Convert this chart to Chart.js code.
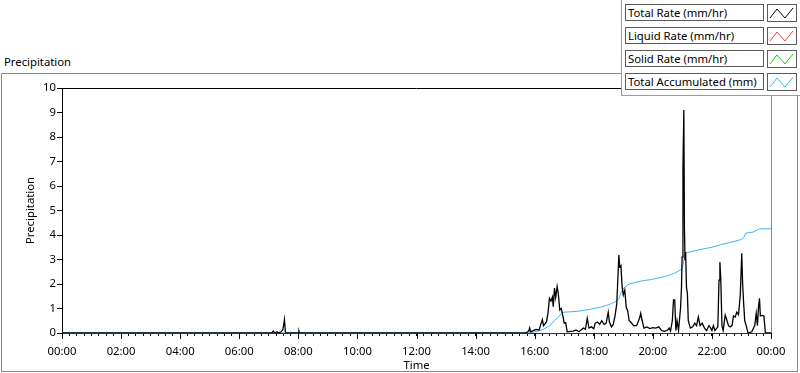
<!DOCTYPE html>
<html>
<head>
<meta charset="utf-8">
<script src="https://cdn.jsdelivr.net/npm/chart.js@4.4.1/dist/chart.umd.min.js"></script>
<style>
  body { margin: 0; background: #fff; font-family: "Noto Sans", "Open Sans", sans-serif; }
  #wrap { position: relative; width: 800px; height: 373px; overflow: hidden; }
  #title { position: absolute; left: 4px; top: 54px; font-size: 11.3px; color: #000; }
  #frame { position: absolute; left: 1px; top: 73px; width: 797px; height: 299px; border: 1px solid #8a8a8a; box-sizing: border-box; }
  #chart { position: absolute; left: 0; top: 0; }
  #legend { position: absolute; left: 621px; top: 0; width: 179px; height: 96px; background: #fff;
            border-left: 1px solid #9a9a9a; border-bottom: 1px solid #9a9a9a; box-sizing: border-box; }
  .row { position: absolute; left: 3px; height: 17px; }
  .txt { position: absolute; left: 0; top: 0; width: 139px; height: 17px; border: 1px solid #5a5a5a; box-sizing: border-box;
         font-size: 11.3px; line-height: 15px; padding-left: 2px; color: #000; white-space: nowrap; overflow: hidden; }
  .ico { position: absolute; left: 142px; top: 0; width: 30px; height: 18px; border: 1px solid #5a5a5a; box-sizing: border-box; }
</style>
</head>
<body>
<div id="wrap">
  <div id="title">Precipitation</div>
  <div id="frame"></div>
  <canvas id="chart" width="800" height="373"></canvas>
  <div id="legend"></div>
</div>
<script>
// Series labels and colours
const seriesNames = ['Total Rate (mm/hr)', 'Liquid Rate (mm/hr)', 'Solid Rate (mm/hr)', 'Total Accumulated (mm)'];
const seriesColors = ['#000000', '#ff3c3c', '#18d018', '#3db4f5'];

// Total rate (mm/hr): time in hours of day
const rateTimes = [0, 7.1, 7.15, 7.2, 7.28, 7.32, 7.42, 7.47, 7.5, 7.53, 7.56, 7.6, 8.0, 8.02, 8.04,
  15.7, 15.8, 15.83, 15.86, 15.95, 16.05, 16.15, 16.2, 16.26, 16.3, 16.4, 16.45, 16.5, 16.55, 16.6, 16.63,
  16.67, 16.71, 16.76, 16.8, 16.85, 16.9, 16.96, 17.0, 17.05, 17.1, 17.3, 17.4, 17.5, 17.65, 17.72, 17.78,
  17.84, 17.92, 18.0, 18.05, 18.13, 18.2, 18.27, 18.35, 18.42, 18.49, 18.53, 18.6, 18.66, 18.72, 18.78,
  18.85, 18.88, 18.92, 18.96, 19.0, 19.05, 19.1, 19.15, 19.2, 19.25, 19.35, 19.45, 19.55, 19.59, 19.63,
  19.7, 19.8, 19.9, 20.0, 20.1, 20.2, 20.3, 20.4, 20.5, 20.55, 20.6, 20.66, 20.7, 20.74, 20.78, 20.82,
  20.87, 20.94, 20.97, 20.99, 21.02, 21.05, 21.07, 21.09, 21.11, 21.14, 21.17, 21.2, 21.27, 21.35, 21.42,
  21.48, 21.54, 21.6, 21.67, 21.75, 21.82, 21.9, 21.96, 22.0, 22.05, 22.1, 22.2, 22.24, 22.27, 22.3,
  22.34, 22.38, 22.45, 22.5, 22.56, 22.62, 22.68, 22.73, 22.79, 22.84, 22.9, 22.96, 23.01, 23.04, 23.07,
  23.11, 23.16, 23.22, 23.35, 23.45, 23.5, 23.54, 23.58, 23.61, 23.64, 23.7, 23.76, 23.81, 24.0];
const totalRate = [0, 0, 0.08, 0, 0.05, 0, 0.05, 0.12, 0.3, 0.55, 0.05, 0, 0, 0.08, 0,
  0, 0.08, 0.2, 0.05, 0.1, 0.15, 0.12, 0.33, 0.55, 0.3, 0.45, 0.8, 1.42, 1.3, 1.47, 1.07,
  1.83, 1.45, 1.9, 1.6, 0.94, 1.0, 0.67, 0.4, 0.42, 0.05, 0.08, 0.12, 0.05, 0.2, 0.15, 0.6,
  0.2, 0.25, 0.18, 0.4, 0.45, 0.35, 0.5, 0.35, 0.4, 0.85, 0.45, 0.25, 0.35, 0.7, 1.2,
  3.18, 2.7, 2.75, 1.89, 1.55, 1.75, 1.05, 0.9, 0.5, 0.45, 0.3, 0.3, 0.6, 0.8, 0.55,
  0.2, 0.25, 0.18, 0.22, 0.2, 0.25, 0.1, 0.07, 0.12, 0.2, 0.08, 0.5, 1.35, 1.35, 0.1, 0.5,
  0.1, 1.06, 1.85, 3.1, 6.8, 9.1, 4.3, 3.0, 3.3, 1.85, 1.6, 0.5, 0.2, 0.25, 0.4,
  0.3, 0.65, 0.3, 0.4, 0.2, 0.1, 0.3, 0.2, 0.1, 0.3, 0.1, 0.25, 2.16, 2.9, 2.2,
  0.3, 0.1, 0.73, 0.55, 0.3, 0.25, 0.3, 0.7, 0.65, 0.85, 0.75, 1.55, 3.25, 2.0, 1.3,
  0.5, 0.3, 0, 0.05, 0.3, 0.8, 0.3, 1.1, 1.42, 0.7, 0.72, 0.7, 0, 0];

// Total accumulated (mm)
const accTimes = [0, 15.85, 16.1, 16.3, 16.5, 16.67, 16.8, 16.9, 17.0, 17.4, 17.8, 18.1, 18.37, 18.6,
  18.77, 18.85, 18.93, 19.0, 19.05, 19.2, 19.6, 19.93, 20.4, 20.74, 20.98, 21.03, 21.08, 21.15, 21.66,
  22.0, 22.35, 22.7, 23.0, 23.08, 23.15, 23.4, 23.6, 24.0];
const totalAccum = [0, 0, 0.08, 0.15, 0.3, 0.5, 0.65, 0.78, 0.85, 0.88, 0.95, 1.02, 1.1, 1.2,
  1.3, 1.4, 1.67, 1.8, 1.88, 2.0, 2.12, 2.18, 2.3, 2.44, 2.6, 2.8, 3.2, 3.28, 3.42,
  3.5, 3.62, 3.72, 3.82, 3.9, 4.08, 4.12, 4.25, 4.25];

// Axis ticks
const yTicks = [0, 1, 2, 3, 4, 5, 6, 7, 8, 9, 10];
const xMajorHours = [0, 2, 4, 6, 8, 10, 12, 14, 16, 18, 20, 22, 24];

// legend (LabVIEW style boxes)
const legend = document.getElementById('legend');
seriesNames.forEach((name, i) => {
    const row = document.createElement('div');
    row.className = 'row';
    row.style.top = (4 + i * 23) + 'px';
    row.innerHTML = `<div class="txt">${name}</div>
      <div class="ico"><svg width="28" height="16"><polyline points="2,12 9,3 17,12 25,2" fill="none" stroke="${seriesColors[i]}" stroke-width="1"/></svg></div>`;
    legend.appendChild(row);
});

const pad2 = n => String(n % 24).padStart(2, '0');
const font = { family: '"Noto Sans", "Open Sans", sans-serif', size: 11.3 };

// frame around plot area + longer major ticks
const plotFrame = {
    id: 'plotFrame',
    afterDraw(chart) {
        const { ctx, chartArea: a, scales } = chart;
        ctx.save();
        ctx.lineWidth = 1;
        ctx.strokeStyle = '#000';
        ctx.beginPath();
        ctx.moveTo(a.left, a.top + 0.5);
        ctx.lineTo(a.right, a.top + 0.5);
        ctx.stroke();
        ctx.strokeStyle = '#8a8a8a';
        ctx.beginPath();
        ctx.moveTo(a.right + 0.5, a.top);
        ctx.lineTo(a.right + 0.5, a.bottom);
        ctx.stroke();
        ctx.strokeStyle = '#000';
        xMajorHours.forEach(h => {
            const px = Math.round(scales.x.getPixelForValue(h)) + 0.5;
            ctx.beginPath();
            ctx.moveTo(px, a.bottom);
            ctx.lineTo(px, a.bottom + 6);
            ctx.stroke();
        });
        ctx.restore();
    }
};

new Chart(document.getElementById('chart'), {
    type: 'line',
    data: {
        datasets: [
            { label: seriesNames[0], data: rateTimes.map((t, i) => ({ x: t, y: totalRate[i] })),
              borderColor: seriesColors[0], borderWidth: 1.3, order: 0 },
            { label: seriesNames[1], data: [], borderColor: seriesColors[1], borderWidth: 1, order: 1 },
            { label: seriesNames[2], data: [], borderColor: seriesColors[2], borderWidth: 1, order: 2 },
            { label: seriesNames[3], data: accTimes.map((t, i) => ({ x: t, y: totalAccum[i] })),
              borderColor: seriesColors[3], borderWidth: 1, order: 3 }
        ]
    },
    options: {
        responsive: false,
        animation: false,
        devicePixelRatio: 1,
        layout: { padding: { left: 20, right: 29, top: 88, bottom: 0 } },
        elements: { point: { radius: 0 }, line: { tension: 0 } },
        plugins: { legend: { display: false }, tooltip: { enabled: false } },
        scales: {
            x: {
                type: 'linear', min: 0, max: 24,
                afterFit: s => { s.height = 40; },
                border: { display: true, color: '#333', width: 1, z: 1 },
                grid: { drawOnChartArea: false, drawTicks: true, tickLength: 3, tickColor: '#000' },
                ticks: {
                    stepSize: 0.25, autoSkip: false, maxRotation: 0, padding: 9, color: '#000', font,
                    callback: v => (xMajorHours.includes(v) ? pad2(v) + ':00' : '')
                },
                title: { display: true, text: 'Time', color: '#000', font, padding: { top: 0, bottom: 0 } }
            },
            y: {
                min: 0, max: 10,
                afterFit: s => { s.width = 42; },
                afterBuildTicks: s => { s.ticks = yTicks.map(v => ({ value: v })); },
                border: { display: true, color: '#000', width: 1 },
                grid: { drawOnChartArea: false, drawTicks: true, tickLength: 5, tickColor: '#000' },
                ticks: { padding: 1, color: '#000', font },
                title: { display: true, text: 'Precipitation', color: '#000', font, padding: { top: 4, bottom: 4 } }
            }
        }
    },
    plugins: [plotFrame]
});
</script>
</body>
</html>
